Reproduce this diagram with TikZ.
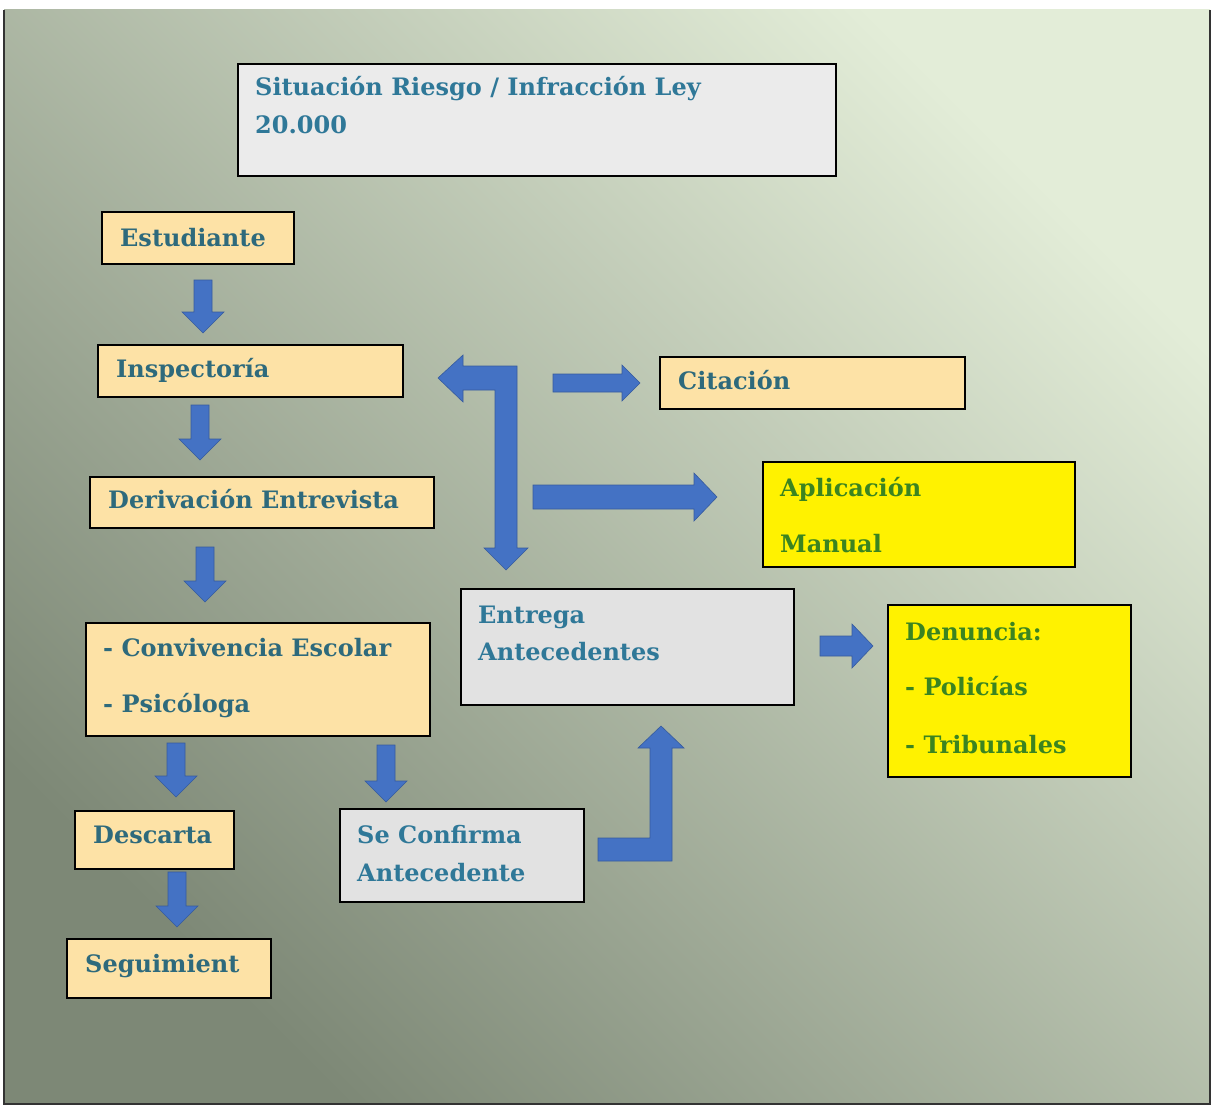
\documentclass[tikz,border=0pt]{standalone}
\usepackage{fontspec}
\setmainfont{DejaVu Serif}
\usepackage{tikz}
\definecolor{bgdark}{HTML}{7D8876}
\definecolor{bgmid}{HTML}{C2CDB5}
\definecolor{bglight}{HTML}{E3EDD8}
\definecolor{beige}{HTML}{FDE2A6}
\definecolor{greyfill}{HTML}{E2E2E2}
\definecolor{arrowblue}{HTML}{4472C4}
\definecolor{tealtxt}{HTML}{2F7898}
\definecolor{darkteal}{HTML}{2E6A7C}
\definecolor{greentxt}{HTML}{3B8420}

% straight block arrows
\newcommand{\downblk}[3]{\fill[blk] (#1-9,#2) -- (#1+9,#2) -- (#1+9,#3-21) -- (#1+21,#3-21) -- (#1,#3) -- (#1-21,#3-21) -- (#1-9,#3-21) -- cycle;}
\newcommand{\rightblk}[6]{\fill[blk] (#2,#1-#4) -- (#3-#6,#1-#4) -- (#3-#6,#1-#5) -- (#3,#1) -- (#3-#6,#1+#5) -- (#3-#6,#1+#4) -- (#2,#1+#4) -- cycle;}

\begin{document}
\begin{tikzpicture}[x=1pt,y=-1pt,
  box/.style={draw=black,line width=2pt,anchor=north west,inner sep=0pt},
  beigebox/.style={box,fill=beige},
  greybox/.style={box,fill=greyfill},
  yellowbox/.style={box,fill=yellow},
  lbl/.style={anchor=base west,inner sep=0pt,font=\fontsize{24}{28}\bfseries},
  blk/.style={fill=arrowblue,draw=arrowblue!80!black,line width=0.6pt}]
\useasboundingbox (0,0) rectangle (1212,1105);
\fill[white] (0,0) rectangle (1212,1105);
\shade[top color=bglight,middle color=bgmid,bottom color=bgdark,shading angle=-45] (4,10) rectangle (1210,1104);
\draw[black!80,line width=1.5pt] (4,10) -- (4,1104) -- (1210,1104) -- (1210,10);

% boxes
\node[greybox,fill=greyfill!70!white,minimum width=598,minimum height=112] (sit) at (237,63) {};
\node[beigebox,minimum width=192,minimum height=52] (estud) at (101,211) {};
\node[beigebox,minimum width=305,minimum height=52] (insp) at (97,344) {};
\node[beigebox,minimum width=344,minimum height=51] (deriv) at (89,476) {};
\node[beigebox,minimum width=344,minimum height=113] (conv) at (85,622) {};
\node[beigebox,minimum width=159,minimum height=58] (desc) at (74,810) {};
\node[beigebox,minimum width=204,minimum height=59] (segui) at (66,938) {};
\node[greybox,minimum width=244,minimum height=93] (conf) at (339,808) {};
\node[greybox,minimum width=333,minimum height=116] (entr) at (460,588) {};
\node[beigebox,minimum width=305,minimum height=52] (cita) at (659,356) {};
\node[yellowbox,minimum width=312,minimum height=105] (apli) at (762,461) {};
\node[yellowbox,minimum width=243,minimum height=172] (denu) at (887,604) {};

% texts
\node[lbl,text=tealtxt] (sita) at (255,96) {Situación Riesgo / Infracción Ley};
\node[lbl,text=tealtxt] (sitb) at (255,134) {20.000};
\node[lbl,text=darkteal] (estudt) at (120,246) {Estudiante};
\node[lbl,text=darkteal] (inspt) at (116,377) {Inspectoría};
\node[lbl,text=darkteal] (derivt) at (108,508) {Derivación Entrevista};
\node[lbl,text=darkteal] (conva) at (103,656) {- Convivencia Escolar};
\node[lbl,text=darkteal] (convb) at (103,712) {- Psicóloga};
\node[lbl,text=darkteal] (desct) at (93,843) {Descarta};
\node[lbl,text=darkteal] (seguit) at (85,972) {Seguimient};
\node[lbl,text=tealtxt] (confa) at (357,843) {Se Confirma};
\node[lbl,text=tealtxt] (confb) at (357,881) {Antecedente};
\node[lbl,text=tealtxt] (entra) at (478,623) {Entrega};
\node[lbl,text=tealtxt] (entrb) at (478,660) {Antecedentes};
\node[lbl,text=darkteal] (citat) at (678,389) {Citación};
\node[lbl,text=greentxt] (aplia) at (780,496) {Aplicación};
\node[lbl,text=greentxt] (aplib) at (780,552) {Manual};
\node[lbl,text=greentxt] (denua) at (905,640) {Denuncia:};
\node[lbl,text=greentxt] (denub) at (905,695) {- Policías};
\node[lbl,text=greentxt] (denuc) at (905,753) {- Tribunales};

% arrows
\downblk{203}{280}{333}
\downblk{200}{405}{460}
\downblk{205}{547}{602}
\downblk{176}{743}{797}
\downblk{386}{745}{802}
\downblk{177}{872}{927}
\rightblk{383}{553}{640}{9}{18}{18}
\rightblk{497}{533}{717}{12}{24}{23}
\rightblk{646}{820}{873}{10}{22}{21}
\fill[blk] (517,366) -- (517,548) -- (528,548) -- (506,570) -- (484,548) -- (495,548) -- (495,390)
  -- (463,390) -- (463,402) -- (438,378) -- (463,355) -- (463,366) -- cycle;
\fill[blk] (598,838) -- (650,838) -- (650,748) -- (638,748) -- (661,726) -- (684,748) -- (672,748)
  -- (672,861) -- (598,861) -- cycle;
\end{tikzpicture}
\end{document}
